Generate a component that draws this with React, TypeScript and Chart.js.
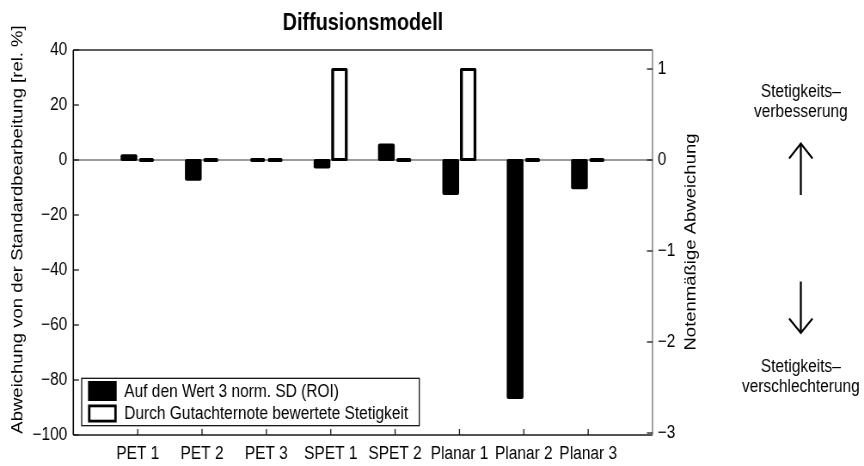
import React, { useEffect, useRef } from 'react';
import { Chart, registerables } from 'chart.js';

Chart.register(...registerables);

// ---- data ----
const chartTitle = 'Diffusionsmodell';
const categories = ['PET 1', 'PET 2', 'PET 3', 'SPET 1', 'SPET 2', 'Planar 1', 'Planar 2', 'Planar 3'];
const relDeviation = [1.7, -7.2, 0, -2.7, 5.6, -12.4, -86.5, -10.3];
const gradeDeviation = [0, 0, 0, 1, 0, 1, 0, 0];
const seriesLabels = ['Auf den Wert 3 norm. SD (ROI)', 'Durch Gutachternote bewertete Stetigkeit'];
const leftTicks = [40, 20, 0, -20, -40, -60, -80, -100];
const rightTicks = [1, 0, -1, -2, -3];
const leftTitle = 'Abweichung von der Standardbearbeitung [rel. %]';
const rightTitle = 'Notenmäßige Abweichung';
const upperNote = ['Stetigkeits–', 'verbesserung'];
const lowerNote = ['Stetigkeits–', 'verschlechterung'];

// axis limits (right axis shares the zero line with the left one)
const leftMin = -100;
const leftMax = 40;
const gradeMin = -3.022;
const gradeMax = 1.209;

// ---- layout ----
const VIEW_W = 864;
const VIEW_H = 466;
const CANVAS_W = 1005;
const SX = VIEW_W / CANVAS_W;
const FONT = "'Liberation Sans', Arial, Helvetica, sans-serif";

const fmt = (v: number) => (v < 0 ? '\u2212' + Math.abs(v) : String(v));

function line(ctx: CanvasRenderingContext2D, x1: number, y1: number, x2: number, y2: number) {
  ctx.beginPath();
  ctx.moveTo(x1, y1);
  ctx.lineTo(x2, y2);
  ctx.stroke();
}

const framePlugin = {
  id: 'frame',
  beforeDatasetsDraw(chart: any) {
    const { ctx, chartArea: a, scales } = chart;
    const y0 = scales.y.getPixelForValue(0);
    ctx.save();
    ctx.strokeStyle = '#7a7a7a';
    ctx.lineWidth = 1.5;
    line(ctx, a.left, y0, a.right, y0);
    ctx.restore();
  },
  afterDatasetsDraw(chart: any) {
    const { ctx, chartArea: a, scales } = chart;
    ctx.save();
    ctx.lineCap = 'butt';
    // box
    ctx.lineWidth = 1.3;
    ctx.strokeStyle = '#2a2a2a';
    line(ctx, a.left, a.top, a.right, a.top);
    ctx.strokeStyle = '#1a1a1a';
    line(ctx, a.left, a.bottom, a.right, a.bottom);
    ctx.lineWidth = 1.6;
    ctx.strokeStyle = '#000';
    line(ctx, a.left, a.top, a.left, a.bottom);
    ctx.strokeStyle = '#8a8a8a';
    line(ctx, a.right, a.top, a.right, a.bottom);
    // inward tick marks
    ctx.strokeStyle = '#1a1a1a';
    ctx.lineWidth = 1.3;
    categories.forEach((_, i) => {
      const x = scales.x.getPixelForValue(i + 1);
      line(ctx, x, a.bottom, x, a.bottom - 6);
    });
    leftTicks.forEach((v) => {
      const y = scales.y.getPixelForValue(v);
      line(ctx, a.left, y, a.left + 6.5, y);
    });
    rightTicks.forEach((v) => {
      const y = scales.y1.getPixelForValue(v);
      line(ctx, a.right, y, a.right - 6.5, y);
    });
    ctx.restore();
  },
  afterDraw(chart: any) {
    const { ctx, chartArea: a } = chart;
    ctx.save();

    // axis titles
    ctx.fillStyle = '#000';
    ctx.font = `18.5px ${FONT}`;
    ctx.textAlign = 'center';
    ctx.textBaseline = 'middle';
    ctx.save();
    ctx.translate(21.3, 229.5);
    ctx.rotate(-Math.PI / 2);
    ctx.fillText(leftTitle, 0, 0);
    ctx.restore();
    ctx.save();
    ctx.translate(a.right + 45, 242);
    ctx.rotate(-Math.PI / 2);
    ctx.fillText(rightTitle, 0, 0);
    ctx.restore();

    // legend
    const lx0 = a.left + 9.7;
    const lx1 = lx0 + 392.7;
    const ly0 = a.bottom - 56.7;
    const ly1 = a.bottom - 9.3;
    ctx.fillStyle = '#fff';
    ctx.fillRect(lx0, ly0, lx1 - lx0, ly1 - ly0);
    ctx.strokeStyle = '#000';
    ctx.lineWidth = 1.2;
    ctx.strokeRect(lx0, ly0, lx1 - lx0, ly1 - ly0);
    const sx0 = lx0 + 7.4;
    const sw = 33.3;
    const rowY = [ly0 + 12.7, ly0 + 35.2];
    ctx.fillStyle = '#000';
    ctx.fillRect(sx0, rowY[0] - 10, sw, 20);
    ctx.lineWidth = 2.8;
    ctx.strokeRect(sx0 + 1.4, rowY[1] - 7.6, sw - 2.8, 15.2);
    ctx.font = `18px ${FONT}`;
    ctx.textAlign = 'left';
    ctx.textBaseline = 'middle';
    chart.data.datasets.forEach((ds: any, i: number) => {
      ctx.fillText(ds.label, lx0 + 49.6, rowY[i] + 1);
    });

    // direction notes with arrows
    const cx = a.right + 172.5;
    ctx.textAlign = 'center';
    ctx.fillText(upperNote[0], cx, 92);
    ctx.fillText(upperNote[1], cx, 112);
    ctx.fillText(lowerNote[0], cx, 367.5);
    ctx.fillText(lowerNote[1], cx, 387.5);
    ctx.lineWidth = 2.3;
    line(ctx, cx, 143.5, cx, 195);
    line(ctx, cx, 281.5, cx, 333);
    ctx.lineWidth = 2.1;
    ctx.lineJoin = 'miter';
    ctx.beginPath();
    ctx.moveTo(cx - 13.6, 158.5);
    ctx.lineTo(cx, 143.5);
    ctx.lineTo(cx + 13.6, 158.5);
    ctx.stroke();
    ctx.beginPath();
    ctx.moveTo(cx - 13.6, 318.5);
    ctx.lineTo(cx, 333);
    ctx.lineTo(cx + 13.6, 318.5);
    ctx.stroke();
    ctx.restore();
  },
};

const inflate = (c: any) => (c.parsed && c.parsed.y === 0 ? 0 : 1);

export default function App() {
  const canvasRef = useRef<HTMLCanvasElement | null>(null);

  useEffect(() => {
    const canvas = canvasRef.current;
    if (!canvas) return;
    const tickFont = { family: FONT, size: 18 };
    const chart = new Chart(canvas, {
      type: 'bar',
      data: {
        datasets: [
          {
            label: seriesLabels[0],
            data: relDeviation.map((v, i) => ({ x: i + 1, y: v })),
            xAxisID: 'x',
            yAxisID: 'y',
            backgroundColor: '#000',
            borderWidth: 0,
            borderRadius: 2,
            borderSkipped: false,
            minBarLength: 4,
            inflateAmount: inflate,
          },
          {
            label: seriesLabels[1],
            data: gradeDeviation.map((v, i) => ({ x: i + 1, y: v })),
            xAxisID: 'x',
            yAxisID: 'y1',
            backgroundColor: '#fff',
            borderColor: '#000',
            borderWidth: { top: 3, bottom: 3, left: 3.5, right: 3.5 },
            borderRadius: 1.5,
            borderSkipped: false,
            minBarLength: 4,
            inflateAmount: inflate,
          },
        ] as any,
      },
      options: {
        responsive: false,
        animation: false,
        devicePixelRatio: 1,
        events: [],
        layout: { padding: 0 },
        datasets: { bar: { categoryPercentage: 0.543, barPercentage: 0.86 } },
        plugins: {
          legend: { display: false },
          tooltip: { enabled: false },
          title: {
            display: true,
            text: chartTitle,
            fullSize: false,
            color: '#000',
            font: { family: FONT, size: 23, weight: 'bold' },
            padding: { top: 10, bottom: 12.4 },
          },
        },
        scales: {
          x: {
            type: 'linear',
            position: 'bottom',
            min: 0,
            max: 9,
            offset: false,
            grid: { display: false, drawTicks: false },
            border: { display: false },
            afterBuildTicks: (s: any) => {
              s.ticks = categories.map((_, i) => ({ value: i + 1 }));
            },
            afterFit: (s: any) => {
              s.height = 31;
            },
            ticks: {
              autoSkip: false,
              maxRotation: 0,
              padding: 8,
              color: '#000',
              font: tickFont,
              callback: (v: any) => categories[Number(v) - 1] ?? '',
            },
          },
          y: {
            type: 'linear',
            position: 'left',
            min: leftMin,
            max: leftMax,
            grid: { display: false, drawTicks: false },
            border: { display: false },
            afterBuildTicks: (s: any) => {
              s.ticks = leftTicks.map((v) => ({ value: v }));
            },
            afterFit: (s: any) => {
              s.width = 85.3;
            },
            ticks: { padding: 7, color: '#000', font: tickFont, callback: (v: any) => fmt(Number(v)) },
          },
          y1: {
            type: 'linear',
            position: 'right',
            min: gradeMin,
            max: gradeMax,
            grid: { display: false, drawTicks: false },
            border: { display: false },
            afterBuildTicks: (s: any) => {
              s.ticks = rightTicks.map((v) => ({ value: v }));
            },
            afterFit: (s: any) => {
              s.width = CANVAS_W - 759;
            },
            ticks: { padding: 6, color: '#000', font: tickFont, callback: (v: any) => fmt(Number(v)) },
          },
        },
      } as any,
      plugins: [framePlugin],
    });
    return () => chart.destroy();
  }, []);

  return (
    <div
      style={{
        position: 'fixed',
        left: 0,
        top: 0,
        width: VIEW_W,
        height: VIEW_H,
        overflow: 'hidden',
        background: '#fff',
      }}
    >
      <div style={{ width: CANVAS_W, height: VIEW_H, transform: `scaleX(${SX})`, transformOrigin: '0 0' }}>
        <canvas ref={canvasRef} width={CANVAS_W} height={VIEW_H} style={{ display: 'block' }} />
      </div>
    </div>
  );
}
